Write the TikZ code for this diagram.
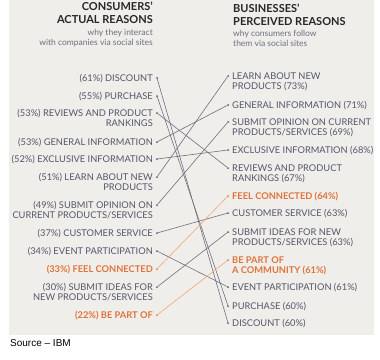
\documentclass[tikz,border=0pt]{standalone}
\usepackage{fontspec}
\setmainfont{Lato}
\newfontfamily\sourcefont{Liberation Sans}
\usetikzlibrary{positioning}
\definecolor{panelbg}{HTML}{EFEEEA}
\definecolor{reasongray}{HTML}{55566A}
\definecolor{reasonorange}{HTML}{E0733A}
\definecolor{linkorange}{HTML}{F2A77C}

\begin{document}
\begin{tikzpicture}[
  x=1pt, y=-1pt,
  dot/.style={circle, fill=reasongray, inner sep=0pt, minimum size=2pt},
  hotdot/.style={dot, fill=reasonorange},
  reason/.style={font=\fontsize{9.3}{10}\selectfont, text=reasongray, inner sep=0pt},
  hot/.style={reason, font=\fontsize{9.3}{10}\selectfont\bfseries, text=reasonorange},
  link/.style={line width=0.6pt, draw=reasongray!85},
  hotlink/.style={line width=0.6pt, draw=linkorange},
  head/.style={font=\fontsize{11}{12.5}\selectfont\bfseries, text=black!85, inner sep=0pt},
  sub/.style={font=\fontsize{8.5}{10}\selectfont, text=reasongray!85, inner sep=0pt}
]
  \useasboundingbox (0,0) rectangle (380,359);
  \fill[panelbg] (9,0) rectangle (374,335);

  % headers (base = last line)
  \node[head, align=right, anchor=base east] (chead) at (153,23) {CONSUMERS’\\ACTUAL REASONS};
  \node[sub, align=right, anchor=base east] (csub) at (153,45) {why they interact\\with companies via social sites};
  \node[head, align=left, anchor=base west] (bhead) at (233,25) {BUSINESSES’\\PERCEIVED REASONS};
  \node[sub, align=left, anchor=base west] (bsub) at (233,46) {why consumers follow\\them via social sites};

  % consumers' side
  \node[dot] (c1) at (157,78) {};
  \node[dot] (c2) at (157,96) {};
  \node[dot] (c3) at (157,113) {};
  \node[dot] (c4) at (157,142) {};
  \node[dot] (c5) at (157,159) {};
  \node[dot] (c6) at (157,177) {};
  \node[dot] (c7) at (157,205) {};
  \node[dot] (c8) at (157,233) {};
  \node[dot] (c9) at (157,251) {};
  \node[hotdot] (c10) at (157,269) {};
  \node[dot] (c11) at (157,287) {};
  \node[hotdot] (c12) at (157,315) {};

  \node[reason, anchor=base east] at ([xshift=-4pt, yshift=-3.4pt]c1) {(61\%) DISCOUNT};
  \node[reason, anchor=base east] at ([xshift=-4pt, yshift=-3.4pt]c2) {(55\%) PURCHASE};
  \node[reason, anchor=base east, align=right] at ([xshift=-4pt, yshift=-13.4pt]c3) {(53\%) REVIEWS AND PRODUCT\\RANKINGS};
  \node[reason, anchor=base east] at ([xshift=-4pt, yshift=-3.4pt]c4) {(53\%) GENERAL INFORMATION};
  \node[reason, anchor=base east] at ([xshift=-4pt, yshift=-3.4pt]c5) {(52\%) EXCLUSIVE INFORMATION};
  \node[reason, anchor=base east, align=right] at ([xshift=-4pt, yshift=-13.4pt]c6) {(51\%) LEARN ABOUT NEW\\PRODUCTS};
  \node[reason, anchor=base east, align=right] at ([xshift=-4pt, yshift=-13.4pt]c7) {(49\%) SUBMIT OPINION ON\\CURRENT PRODUCTS/SERVICES};
  \node[reason, anchor=base east] at ([xshift=-4pt, yshift=-3.4pt]c8) {(37\%) CUSTOMER SERVICE};
  \node[reason, anchor=base east] at ([xshift=-4pt, yshift=-3.4pt]c9) {(34\%) EVENT PARTICIPATION};
  \node[hot, anchor=base east] at ([xshift=-4pt, yshift=-3.4pt]c10) {(33\%) FEEL CONNECTED};
  \node[reason, anchor=base east, align=right] at ([xshift=-4pt, yshift=-13.4pt]c11) {(30\%) SUBMIT IDEAS FOR\\NEW PRODUCTS/SERVICES};
  \node[hot, anchor=base east] at ([xshift=-4pt, yshift=-3.4pt]c12) {(22\%) BE PART OF};

  % businesses' side
  \node[dot] (b1) at (228,76) {};
  \node[dot] (b2) at (228,105) {};
  \node[dot] (b3) at (228,122) {};
  \node[dot] (b4) at (228,150) {};
  \node[dot] (b5) at (228,168) {};
  \node[hotdot] (b6) at (228,196) {};
  \node[dot] (b7) at (228,213) {};
  \node[dot] (b8) at (228,232) {};
  \node[hotdot] (b9) at (228,260) {};
  \node[dot] (b10) at (228,287) {};
  \node[dot] (b11) at (228,306) {};
  \node[dot] (b12) at (228,323) {};

  \node[reason, anchor=base west, align=left] at ([xshift=4pt, yshift=-13.4pt]b1) {LEARN ABOUT NEW\\PRODUCTS (73\%)};
  \node[reason, anchor=base west] at ([xshift=4pt, yshift=-3.4pt]b2) {GENERAL INFORMATION (71\%)};
  \node[reason, anchor=base west, align=left] at ([xshift=4pt, yshift=-13.4pt]b3) {SUBMIT OPINION ON CURRENT\\PRODUCTS/SERVICES (69\%)};
  \node[reason, anchor=base west] at ([xshift=4pt, yshift=-3.4pt]b4) {EXCLUSIVE INFORMATION (68\%)};
  \node[reason, anchor=base west, align=left] at ([xshift=4pt, yshift=-13.4pt]b5) {REVIEWS AND PRODUCT\\RANKINGS (67\%)};
  \node[hot, anchor=base west] at ([xshift=4pt, yshift=-3.4pt]b6) {FEEL CONNECTED (64\%)};
  \node[reason, anchor=base west] at ([xshift=4pt, yshift=-3.4pt]b7) {CUSTOMER SERVICE (63\%)};
  \node[reason, anchor=base west, align=left] at ([xshift=4pt, yshift=-13.4pt]b8) {SUBMIT IDEAS FOR NEW\\PRODUCTS/SERVICES (63\%)};
  \node[hot, anchor=base west, align=left] at ([xshift=4pt, yshift=-13.4pt]b9) {BE PART OF\\A COMMUNITY (61\%)};
  \node[reason, anchor=base west] at ([xshift=4pt, yshift=-3.4pt]b10) {EVENT PARTICIPATION (61\%)};
  \node[reason, anchor=base west] at ([xshift=4pt, yshift=-3.4pt]b11) {PURCHASE (60\%)};
  \node[reason, anchor=base west] at ([xshift=4pt, yshift=-3.4pt]b12) {DISCOUNT (60\%)};

  % links
  \draw[link] (c1) -- (b12);
  \draw[link] (c2) -- (b11);
  \draw[link] (c3) -- (b5);
  \draw[link] (c4) -- (b2);
  \draw[link] (c5) -- (b4);
  \draw[link] (c6) -- (b1);
  \draw[link] (c7) -- (b3);
  \draw[link] (c8) -- (b7);
  \draw[link] (c9) -- (b10);
  \draw[hotlink] (c10) -- (b6);
  \draw[link] (c11) -- (b8);
  \draw[hotlink] (c12) -- (b9);

  \node[font=\sourcefont\fontsize{10}{12}\selectfont, anchor=base west, inner sep=0pt] (source) at (10,346) {Source – IBM};
\end{tikzpicture}
\end{document}
